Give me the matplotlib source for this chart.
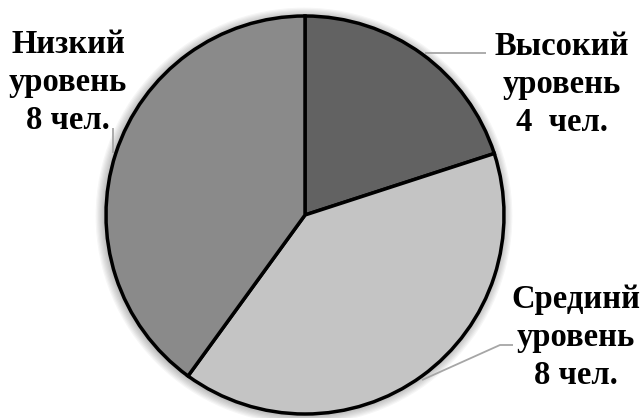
import matplotlib
matplotlib.use("Agg")
import matplotlib.pyplot as plt
from matplotlib.patches import Circle

labels = ["Высокий\nуровень\n4  чел.", "Срединй\nуровень\n8 чел.", "Низкий\nуровень\n8 чел."]
values = [4, 8, 8]
colors = ["#626262", "#c4c4c4", "#8a8a8a"]

W, H = 643, 418
fig = plt.figure(figsize=(W / 100, H / 100), dpi=100)
ax = fig.add_axes([0, 0, 1, 1])

cx, cy, r = 305, H - 215, 199

# soft shadow
for i in range(8):
    ax.add_patch(Circle((cx - 1, cy - 1), r + 1 + i * 1.2, facecolor="black",
                        edgecolor="none", alpha=0.035, zorder=0))

wedges, _ = ax.pie(values, colors=colors, startangle=90, counterclock=False,
                   center=(cx, cy), radius=r,
                   wedgeprops=dict(edgecolor="black", linewidth=2.5))
for w in wedges:
    w.set_zorder(2)

ax.set_xlim(0, W)
ax.set_ylim(0, H)
ax.set_aspect("equal")
ax.axis("off")

font = dict(family=["Liberation Serif", "DejaVu Serif"], fontweight="bold",
            fontsize=23.5, color="black", ha="center", va="top", linespacing=1.3)

def ln(xs, ys):
    ax.plot(xs, [H - y for y in ys], color="#a6a6a6", lw=1.3, zorder=3,
            solid_capstyle="butt")

ln([425, 486], [53, 53])
ln([422, 500, 513], [380, 345, 345])
ln([113, 113], [128, 153])

ax.text(562, H - 31, labels[0], **font)
ax.text(576, H - 284, labels[1], **font)
ax.text(68, H - 29, labels[2], **font)

fig.savefig("out.png", dpi=100)
